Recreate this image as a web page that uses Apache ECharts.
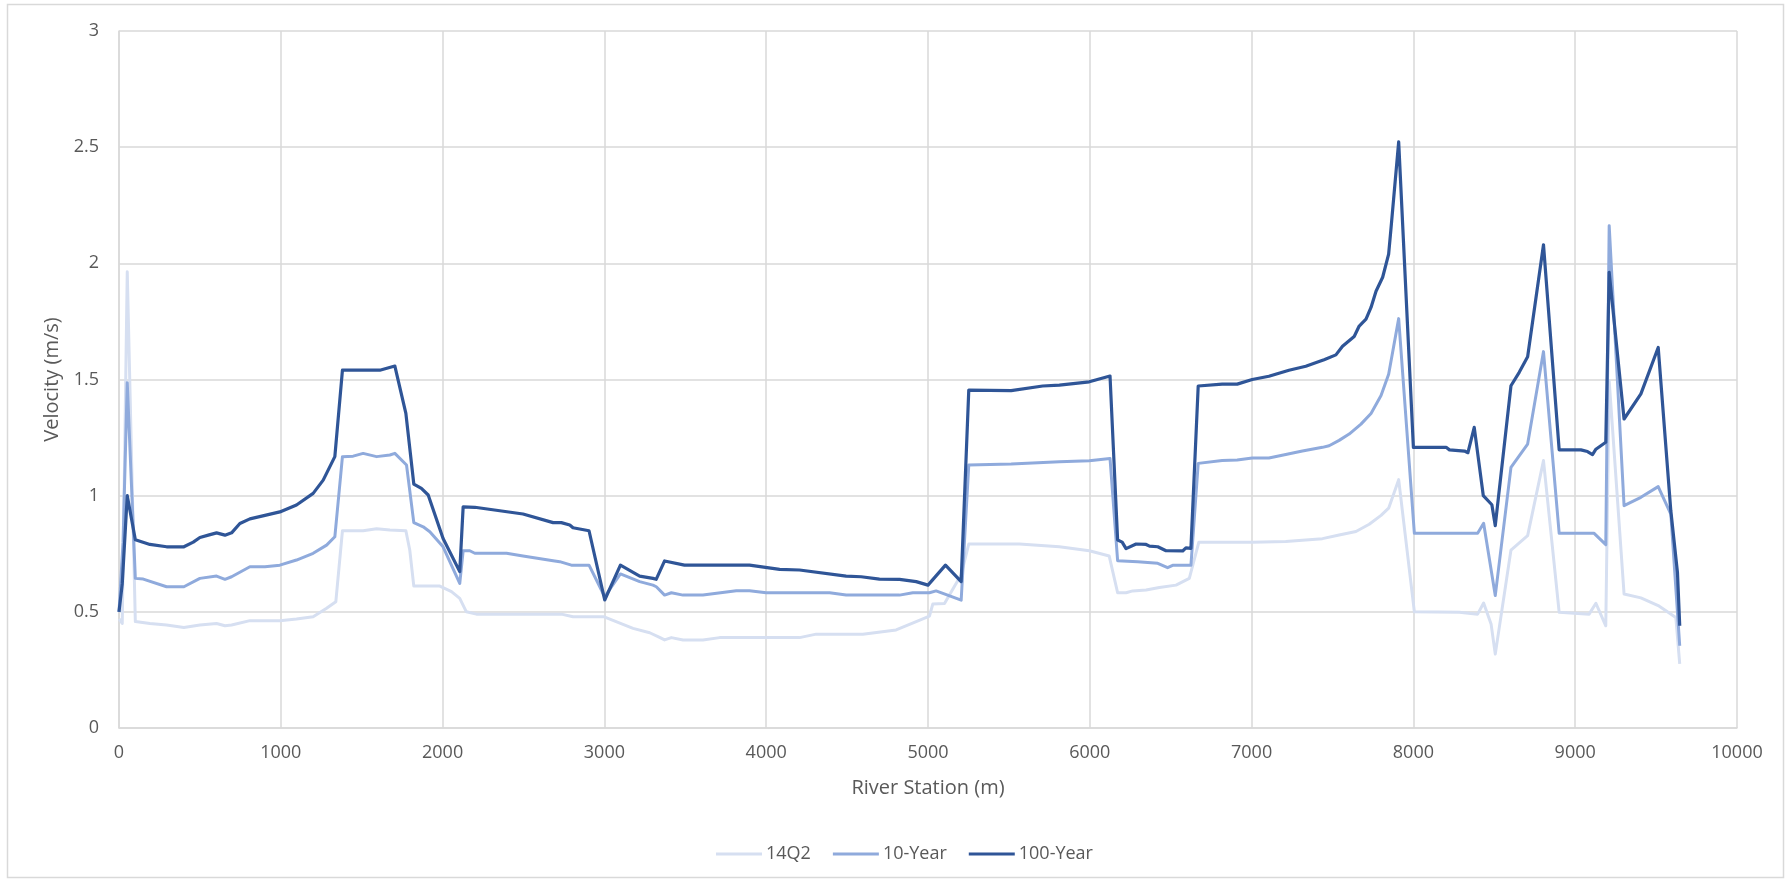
<!DOCTYPE html>
<html>
<head>
<meta charset="utf-8">
<title>Velocity profile</title>
<script src="https://cdn.jsdelivr.net/npm/echarts@6/dist/echarts.min.js"></script>
<style>
  html, body { margin: 0; padding: 0; background: #ffffff; }
  #chart { width: 1786px; height: 882px; }
</style>
</head>
<body>
<div id="chart"></div>
<script>
// Series names, shown in the legend
const seriesNames = ['14Q2', '10-Year', '100-Year'];

// Channel velocity (m/s) by river station (m): [station, velocity]
const vel14Q2 = [
  [0, 0.47], [20, 0.45], [51, 1.964], [101, 0.458], [191, 0.45], [294, 0.443], [401, 0.433],
  [500, 0.443], [603, 0.45], [655, 0.44], [696, 0.443], [809, 0.462], [994, 0.462], [1097, 0.469],
  [1200, 0.479], [1283, 0.515], [1340, 0.543], [1381, 0.849], [1509, 0.849], [1592, 0.858],
  [1674, 0.852], [1773, 0.849], [1797, 0.766], [1822, 0.611], [1983, 0.611], [2055, 0.587],
  [2106, 0.558], [2147, 0.50], [2209, 0.49], [2734, 0.49], [2806, 0.479], [2995, 0.479],
  [3177, 0.429], [3280, 0.41], [3341, 0.39], [3372, 0.379], [3414, 0.389], [3486, 0.379],
  [3609, 0.379], [3712, 0.389], [4206, 0.389], [4309, 0.404], [4597, 0.404], [4803, 0.422],
  [4927, 0.458], [5009, 0.482], [5030, 0.534], [5102, 0.536], [5205, 0.66], [5252, 0.792],
  [5565, 0.792], [5812, 0.78], [5997, 0.763], [6120, 0.74], [6172, 0.582], [6224, 0.582],
  [6265, 0.59], [6348, 0.594], [6430, 0.605], [6533, 0.615], [6615, 0.644], [6674, 0.80],
  [7004, 0.80], [7211, 0.803], [7314, 0.808], [7438, 0.815], [7541, 0.831], [7645, 0.846],
  [7727, 0.877], [7800, 0.915], [7847, 0.946], [7909, 1.069], [8006, 0.50], [8284, 0.498],
  [8397, 0.49], [8434, 0.538], [8480, 0.448], [8506, 0.318], [8603, 0.766], [8706, 0.828],
  [8804, 1.151], [8901, 0.498], [9086, 0.49], [9128, 0.537], [9189, 0.44], [9210, 1.495],
  [9302, 0.577], [9406, 0.56], [9513, 0.527], [9622, 0.476], [9646, 0.276]
];

const vel10yr = [
  [0, 0.50], [25, 0.80], [51, 1.486], [101, 0.644], [150, 0.641], [294, 0.608], [401, 0.608],
  [500, 0.644], [603, 0.654], [655, 0.64], [696, 0.651], [809, 0.694], [902, 0.694], [994, 0.701],
  [1097, 0.723], [1200, 0.752], [1283, 0.787], [1334, 0.823], [1381, 1.168], [1447, 1.17],
  [1509, 1.182], [1592, 1.168], [1674, 1.175], [1705, 1.182], [1777, 1.132], [1822, 0.884],
  [1880, 0.866], [1921, 0.845], [2003, 0.78], [2106, 0.622], [2127, 0.763], [2168, 0.763],
  [2199, 0.752], [2395, 0.752], [2497, 0.74], [2683, 0.72], [2724, 0.716], [2796, 0.701],
  [2905, 0.701], [3002, 0.565], [3099, 0.663], [3218, 0.63], [3300, 0.615], [3321, 0.608],
  [3372, 0.572], [3414, 0.582], [3486, 0.572], [3609, 0.572], [3815, 0.591], [3897, 0.591],
  [4000, 0.582], [4392, 0.582], [4494, 0.572], [4824, 0.572], [4906, 0.582], [5009, 0.582],
  [5050, 0.59], [5205, 0.55], [5252, 1.132], [5514, 1.136], [5812, 1.146], [5997, 1.15],
  [6125, 1.16], [6172, 0.72], [6296, 0.716], [6420, 0.709], [6481, 0.69], [6512, 0.70],
  [6625, 0.70], [6670, 1.139], [6818, 1.151], [6911, 1.154], [7004, 1.162], [7107, 1.162],
  [7211, 1.177], [7314, 1.192], [7438, 1.208], [7479, 1.215], [7541, 1.238], [7603, 1.265],
  [7676, 1.308], [7738, 1.354], [7800, 1.431], [7847, 1.523], [7909, 1.762], [8006, 0.838],
  [8284, 0.838], [8397, 0.838], [8434, 0.881], [8506, 0.57], [8603, 1.122], [8706, 1.222],
  [8804, 1.62], [8901, 0.838], [9117, 0.838], [9189, 0.789], [9210, 2.162], [9302, 0.957],
  [9406, 0.993], [9513, 1.039], [9591, 0.921], [9646, 0.354]
];

const vel100yr = [
  [0, 0.50], [20, 0.62], [51, 1.00], [101, 0.81], [191, 0.79], [294, 0.78], [401, 0.78],
  [459, 0.80], [500, 0.82], [552, 0.83], [603, 0.84], [655, 0.83], [696, 0.84], [747, 0.88],
  [809, 0.90], [902, 0.915], [994, 0.93], [1097, 0.96], [1200, 1.01], [1262, 1.067],
  [1334, 1.168], [1381, 1.54], [1612, 1.54], [1705, 1.558], [1773, 1.354], [1822, 1.05],
  [1869, 1.031], [1911, 1.003], [2003, 0.816], [2106, 0.673], [2127, 0.952], [2199, 0.95],
  [2497, 0.921], [2683, 0.884], [2734, 0.884], [2786, 0.874], [2806, 0.862], [2905, 0.849],
  [3002, 0.551], [3099, 0.701], [3218, 0.654], [3300, 0.644], [3320, 0.64], [3372, 0.719],
  [3495, 0.701], [3897, 0.701], [4083, 0.683], [4206, 0.68], [4494, 0.654], [4587, 0.651],
  [4700, 0.641], [4824, 0.64], [4927, 0.63], [5000, 0.615], [5108, 0.701], [5205, 0.63],
  [5252, 1.454], [5514, 1.452], [5709, 1.472], [5812, 1.476], [5997, 1.49], [6125, 1.515],
  [6172, 0.809], [6200, 0.80], [6224, 0.772], [6286, 0.792], [6348, 0.79], [6369, 0.783],
  [6420, 0.78], [6471, 0.763], [6574, 0.762], [6594, 0.775], [6625, 0.773], [6670, 1.472],
  [6818, 1.48], [6911, 1.48], [7004, 1.50], [7107, 1.514], [7231, 1.54], [7335, 1.557],
  [7417, 1.577], [7448, 1.585], [7521, 1.606], [7562, 1.643], [7634, 1.685], [7665, 1.73],
  [7707, 1.76], [7738, 1.81], [7769, 1.88], [7810, 1.94], [7847, 2.04], [7862, 2.154],
  [7909, 2.523], [8000, 1.208], [8202, 1.208], [8223, 1.197], [8316, 1.192], [8337, 1.185],
  [8376, 1.294], [8432, 1.0], [8485, 0.961], [8506, 0.871], [8603, 1.473], [8654, 1.531],
  [8706, 1.598], [8804, 2.08], [8901, 1.197], [9035, 1.197], [9076, 1.19], [9107, 1.177],
  [9128, 1.20], [9189, 1.23], [9210, 1.961], [9302, 1.33], [9406, 1.438], [9513, 1.638],
  [9591, 0.935], [9632, 0.67], [9646, 0.44]
];

// Axis ranges and tick spacing
const xTicks = { min: 0, max: 10000, interval: 1000 };
const yTicks = { min: 0, max: 3, interval: 0.5 };

const colors = ['#d6dff1', '#8faadc', '#2f5597'];
const textColor = '#595959';
const gridColor = '#d9d9d9';
const fontFamily = '"Open Sans", "Noto Sans", sans-serif';

const chart = echarts.init(document.getElementById('chart'), null, { renderer: 'canvas' });

const dataSets = [vel14Q2, vel10yr, vel100yr];

chart.setOption({
  backgroundColor: '#ffffff',
  animation: false,
  textStyle: { fontFamily: fontFamily },
  graphic: [{
    type: 'rect',
    shape: { x: 7.5, y: 4.5, width: 1776, height: 873 },
    style: { fill: 'none', stroke: gridColor, lineWidth: 1.5 },
    silent: true
  }],
  grid: { left: 119, right: 49, top: 31, bottom: 154, containLabel: false },
  legend: {
    data: seriesNames,
    left: 711,
    top: 840,
    icon: 'rect',
    itemWidth: 46,
    itemHeight: 3,
    itemGap: 22,
    textStyle: { color: textColor, fontSize: 18, fontFamily: fontFamily, padding: [0, 0, 0, -1] }
  },
  xAxis: {
    type: 'value',
    min: xTicks.min,
    max: xTicks.max,
    interval: xTicks.interval,
    name: 'River Station (m)',
    nameLocation: 'middle',
    nameGap: 50,
    nameTextStyle: { color: textColor, fontSize: 20, fontFamily: fontFamily },
    axisLine: { show: true, lineStyle: { color: gridColor, width: 1.5 } },
    axisTick: { show: false },
    axisLabel: {
      color: textColor, fontSize: 18, margin: 16, fontFamily: fontFamily,
      formatter: (v) => String(v)
    },
    splitLine: { show: true, lineStyle: { color: gridColor, width: 1.5 } }
  },
  yAxis: {
    type: 'value',
    min: yTicks.min,
    max: yTicks.max,
    interval: yTicks.interval,
    name: 'Velocity (m/s)',
    nameLocation: 'middle',
    nameGap: 57,
    nameRotate: 90,
    nameTextStyle: { color: textColor, fontSize: 20, fontFamily: fontFamily },
    axisLine: { show: true, lineStyle: { color: gridColor, width: 1.5 } },
    axisTick: { show: false },
    axisLabel: {
      color: textColor, fontSize: 18, margin: 20, fontFamily: fontFamily,
      formatter: (v) => String(v)
    },
    splitLine: { show: true, lineStyle: { color: gridColor, width: 1.5 } }
  },
  series: seriesNames.map((name, i) => ({
    name: name,
    type: 'line',
    data: dataSets[i],
    showSymbol: false,
    symbol: 'none',
    smooth: false,
    color: colors[i],
    lineStyle: { color: colors[i], width: i === 2 ? 3.2 : 3, join: 'round' },
    z: 2 + i
  }))
});
</script>
</body>
</html>
